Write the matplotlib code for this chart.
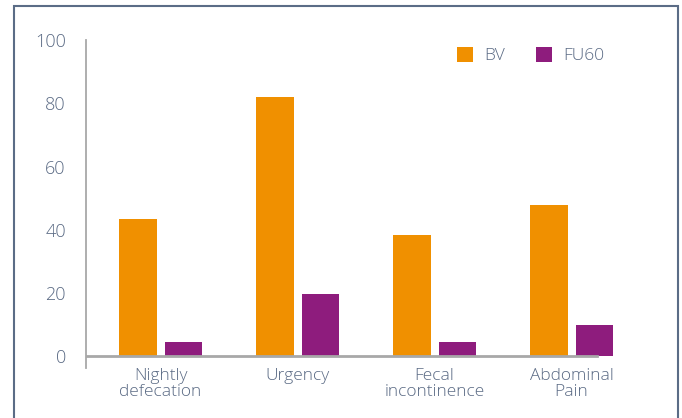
import matplotlib
matplotlib.use("Agg")
import matplotlib.pyplot as plt
from matplotlib.patches import Rectangle
import numpy as np

categories = ["Nightly\ndefecation", "Urgency", "Fecal\nincontinence", "Abdominal\nPain"]
bv = [43.5, 82, 38.2, 47.8]
fu60 = [4.4, 19.6, 4.4, 9.7]
series_names = ["BV", "FU60"]
yticks = [0, 20, 40, 60, 80, 100]

ORANGE = "#F09000"
PURPLE = "#8E1C7D"
TEXT = "#5A6A84"
AXIS = "#A8A8A8"

plt.rcParams['font.family'] = ['Open Sans', 'DejaVu Sans']
plt.rcParams['font.weight'] = 'light'

W, H = 682, 418
fig = plt.figure(figsize=(W / 100, H / 100), dpi=100)
fig.patch.set_facecolor("white")

# outer frame
fig.add_artist(Rectangle((13.5 / W, -0.05), (677.5 - 13.5) / W, (H - 6.5) / H + 0.05,
                         transform=fig.transFigure, fill=False, edgecolor="#5B6C86", lw=1.5))

ax_left, ax_right = 86, 625
ax_top, ax_bot = 40, 368
ax = fig.add_axes([ax_left / W, (H - ax_bot) / H, (ax_right - ax_left) / W, (ax_bot - ax_top) / H])

x = np.arange(len(categories))
width = 0.274
off = 0.166
b1 = ax.bar(x - off, bv, width, color=ORANGE, label=series_names[0], zorder=2)
b2 = ax.bar(x + off, fu60, width, color=PURPLE, label=series_names[1], zorder=2)

ax.set_xlim(-0.544, 3.39)
ax.set_ylim(-3.8, 100.1)

# baseline
ax.axhline(0, xmin=0, xmax=(3.186 + 0.544) / (3.39 + 0.544), color=AXIS, lw=2, zorder=3)

for s in ["top", "right", "bottom"]:
    ax.spines[s].set_visible(False)
ax.spines["left"].set_color(AXIS)
ax.spines["left"].set_linewidth(1.3)

ax.set_yticks(yticks)
ax.set_yticklabels([str(v) for v in yticks])
ax.tick_params(axis="y", length=0, pad=14.5, labelsize=13, labelcolor=TEXT)
ax.set_xticks(x)
ax.set_xticklabels(categories, linespacing=1.0)
ax.tick_params(axis="x", length=0, pad=0, labelsize=12.5, labelcolor=TEXT)

leg = ax.legend(handles=[b1, b2], ncol=2, frameon=False, loc="upper left",
                bbox_to_anchor=(457 / W, (H - 47) / H), bbox_transform=fig.transFigure,
                borderpad=0, borderaxespad=0, handlelength=0.95, handleheight=0.95,
                handletextpad=0.6, columnspacing=1.8, fontsize=12.5)
for t in leg.get_texts():
    t.set_color(TEXT)

fig.savefig("out.png", dpi=100)
